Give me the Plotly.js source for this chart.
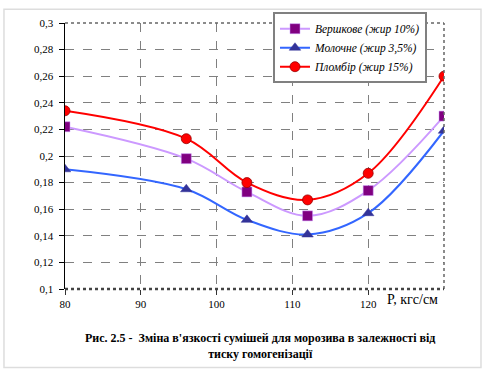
<!DOCTYPE html>
<html>
<head>
<meta charset="utf-8">
<script src="https://cdn.plot.ly/plotly-3.0.1.min.js"></script>
<style>
html,body{margin:0;padding:0;background:#fff;}
#chart{width:487px;height:377px;}
</style>
</head>
<body>
<div id="chart"></div>
<script>
var pressure = [80, 96, 104, 112, 120, 130];
var vershkove = [0.222, 0.198, 0.173, 0.155, 0.174, 0.230];
var moloch = [0.190, 0.175, 0.152, 0.141, 0.157, 0.219];
var plombir = [0.234, 0.213, 0.180, 0.167, 0.187, 0.260];
var seriesNames = ['Вершкове (жир 10%)', 'Молочне (жир 3,5%)', 'Пломбір (жир 15%)'];
var yTickVals = [0.1, 0.12, 0.14, 0.16, 0.18, 0.2, 0.22, 0.24, 0.26, 0.28, 0.3];
var yTickText = ['0,1', '0,12', '0,14', '0,16', '0,18', '0,2', '0,22', '0,24', '0,26', '0,28', '0,3'];
var xTickVals = [80, 90, 100, 110, 120];
var xTickText = ['80', '90', '100', '110', '120'];

var FONT = 'Liberation Serif';

var traces = [
  {x: pressure, y: vershkove, name: seriesNames[0], mode: 'lines+markers',
   line: {color: '#CC99FF', width: 2, shape: 'spline', smoothing: 1},
   marker: {symbol: 'square', size: 10, color: '#800080', line: {color: '#CC99FF', width: 0.5}}},
  {x: pressure, y: moloch, name: seriesNames[1], mode: 'lines+markers',
   line: {color: '#3366FF', width: 2, shape: 'spline', smoothing: 1},
   marker: {symbol: 'triangle-up', size: 10, color: '#333399', line: {color: '#333399', width: 0.5}}},
  {x: pressure, y: plombir, name: seriesNames[2], mode: 'lines+markers',
   line: {color: '#FF0000', width: 2, shape: 'spline', smoothing: 1},
   marker: {symbol: 'circle', size: 10, color: '#FF0000', line: {color: '#990000', width: 0.8}}}
];

var layout = {
  width: 487, height: 377,
  margin: {l: 65, r: 43, t: 18, b: 88, pad: 0},
  paper_bgcolor: '#fff', plot_bgcolor: '#fff',
  font: {family: FONT, size: 11, color: '#000'},
  showlegend: true,
  legend: {
    x: 0.5488, y: 1.0406, xanchor: 'left', yanchor: 'top',
    bgcolor: '#fff', bordercolor: '#808080', borderwidth: 2,
    font: {family: FONT, size: 11.5, color: '#000', style: 'italic'},
    itemwidth: 30
  },
  xaxis: {
    range: [80, 130], tickvals: xTickVals, ticktext: xTickText,
    showgrid: true, gridcolor: '#808080', griddash: 'dash', gridwidth: 1,
    zeroline: false, showline: false,
    ticks: 'outside', ticklen: 5, tickcolor: '#333', tickwidth: 1,
    tickfont: {family: FONT, size: 11, color: '#000'}
  },
  yaxis: {
    range: [0.1, 0.3], tickvals: yTickVals, ticktext: yTickText,
    showgrid: true, gridcolor: '#808080', griddash: 'dash', gridwidth: 1,
    zeroline: false, showline: true, linecolor: '#000', linewidth: 1.5,
    ticks: 'outside', ticklen: 5, tickcolor: '#000', tickwidth: 1,
    ticklabelstandoff: 3,
    tickfont: {family: FONT, size: 11, color: '#000'}
  },
  shapes: [
    {type: 'rect', xref: 'paper', yref: 'paper', x0: -0.161, x1: 1.0976, y0: -0.2952, y1: 1.0517,
     line: {color: '#DDDDDD', width: 1.5}, layer: 'below'},
    {type: 'line', xref: 'paper', yref: 'paper', x0: 0, x1: 1, y0: 1, y1: 1,
     line: {color: '#666', width: 1.5, dash: 'dot'}},
    {type: 'line', xref: 'paper', yref: 'paper', x0: 1, x1: 1, y0: 0, y1: 1,
     line: {color: '#666', width: 1.5, dash: 'dot'}},
    {type: 'line', xref: 'paper', yref: 'paper', x0: 0, x1: 1, y0: 0, y1: 0,
     line: {color: '#444', width: 2.5, dash: 'dot'}}
  ],
  annotations: [
    {xref: 'paper', yref: 'paper', x: 0.9156, y: -0.041, xanchor: 'center', yanchor: 'middle',
     text: 'P, кгс/см', showarrow: false, font: {family: FONT, size: 14, color: '#000'}},
    {xref: 'paper', yref: 'paper', x: 0.5145, y: -0.214, xanchor: 'center', yanchor: 'middle',
     text: '<b>Рис. 2.5 -  Зміна в\'язкості сумішей для морозива в залежності від<br>тиску гомогенізації</b>',
     showarrow: false, align: 'center', font: {family: FONT, size: 12, color: '#000'}}
  ]
};

Plotly.newPlot('chart', traces, layout, {displayModeBar: false, staticPlot: true});
</script>
</body>
</html>
